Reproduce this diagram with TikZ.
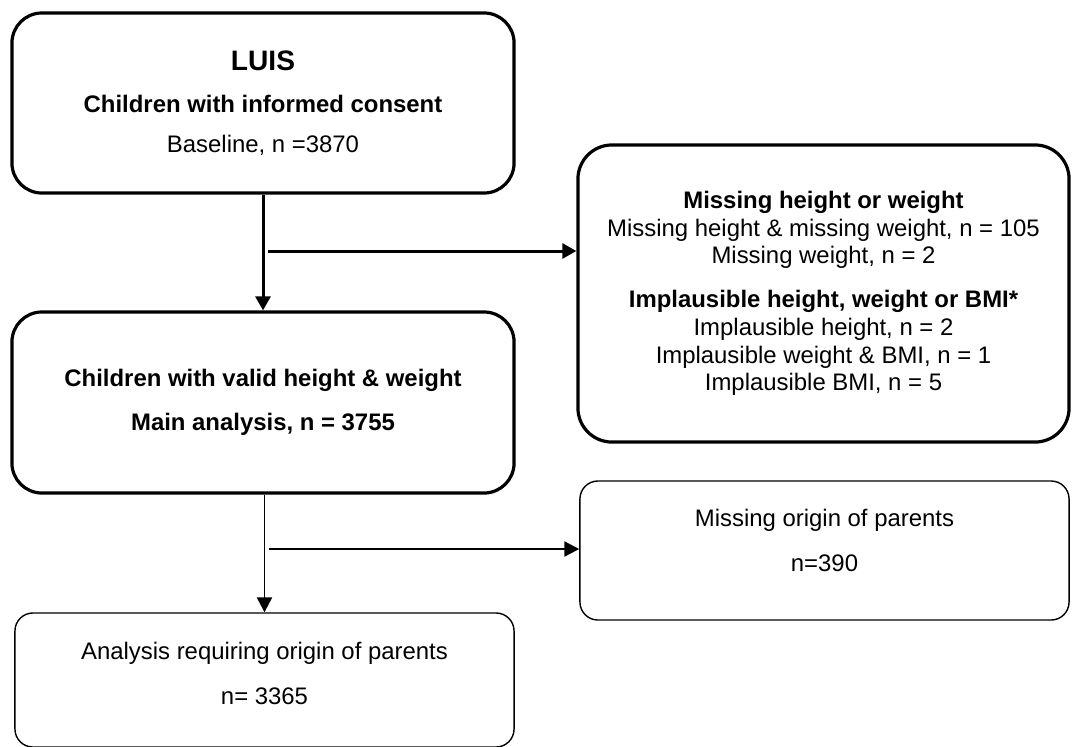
\documentclass[tikz,border=0pt]{standalone}
\usepackage{fontspec}
\setmainfont{Liberation Sans}
\usetikzlibrary{arrows.meta}

\begin{document}
\begin{tikzpicture}[x=0.025cm, y=-0.025cm,
	every node/.style={font=\fontsize{17}{19.6}\selectfont, align=center},
	thickbox/.style={draw, line width=0.08cm, rounded corners=0.75cm, inner sep=0pt},
	widebox/.style={thickbox, rounded corners=0.85cm},
	thinbox/.style={draw, line width=0.035cm, rounded corners=0.45cm, inner sep=0pt},
	thickarrow/.style={line width=0.075cm, -{Triangle[width=0.375cm, length=0.35cm]}},
	thinarrow/.style={line width=0.042cm, -{Triangle[width=0.375cm, length=0.37cm]}}]
				\useasboundingbox (0,0) rectangle (1072,746);
				\path (263,103) node[thickbox, minimum width=12.55cm, minimum height=4.5cm] (luis){{\fontsize{20}{24}\selectfont\textbf{LUIS}}\\[10.3pt]\textbf{Children with informed consent}\\[8.9pt]Baseline, n =3870}
				(823.5,293.5) node[widebox, minimum width=12.275cm, minimum height=7.425cm] (excl){\textbf{Missing height or weight}\\ Missing height \& missing weight, n = 105\\ Missing weight, n = 2\\[11.7pt]\textbf{Implausible height, weight or BMI*}\\ Implausible height, n = 2\\ Implausible weight \& BMI, n = 1\\ Implausible BMI, n = 5}
				(263,402.5) node[thickbox, minimum width=12.55cm, minimum height=4.525cm] (valid){\textbf{Children with valid height \& weight}\\[11.7pt]\textbf{Main analysis, n = 3755}}
				(824.5,550.5) node[thinbox, minimum width=12.225cm, minimum height=3.475cm, text depth=14pt] (origin){Missing origin of parents\\[12.4pt]n=390}
				(264.5,680) node[thinbox, minimum width=12.475cm, minimum height=3.35cm, text depth=9pt] (parents){Analysis requiring origin of parents\\[12.4pt]n= 3365};
				
				\coordinate (b1) at (268,251);
				\coordinate (b2) at (269,549);
				\draw[thickarrow] (luis) -- (valid);
				\draw[thickarrow] (b1) -- (b1 -| excl.west);
				\draw[thinarrow] (valid.south -| parents.north) -- (parents.north);
				\draw[thinarrow] (b2) -- (b2 -| origin.west);
			\end{tikzpicture}
\end{document}
